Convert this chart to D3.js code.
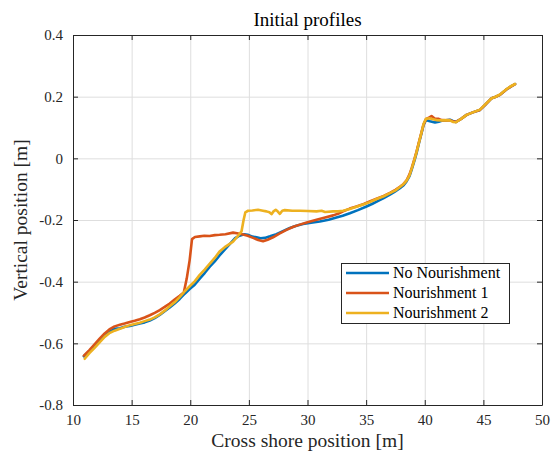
<!DOCTYPE html>
<html>
<head>
<meta charset="utf-8">
<script src="https://cdn.jsdelivr.net/npm/d3@7"></script>
<style>
  html, body { margin: 0; padding: 0; background: #ffffff; }
  svg { display: block; font-family: "Liberation Serif", "DejaVu Serif", serif; }
</style>
</head>
<body>
<div id="chart"></div>
<script>
// ---------- DATA ----------
const seriesNames = ["No Nourishment", "Nourishment 1", "Nourishment 2"];
const seriesColors = ["#0072BD", "#D95319", "#EDB120"];

const xTicks = [10, 15, 20, 25, 30, 35, 40, 45, 50];
const yTicks = [-0.8, -0.6, -0.4, -0.2, 0, 0.2, 0.4];
const yTickLabels = ["-0.8", "-0.6", "-0.4", "-0.2", "0", "0.2", "0.4"];

// [cross-shore position (m), vertical position (m)]
const noNourishment = [
  [10.93,-0.642],[11.4,-0.625],[11.84,-0.607],[12.27,-0.590],[12.7,-0.575],[13.1,-0.563],
  [13.55,-0.553],[14.0,-0.551],[14.4,-0.546],[14.85,-0.544],[15.26,-0.540],[15.7,-0.536],
  [16.11,-0.532],[16.55,-0.526],[16.97,-0.518],[17.4,-0.508],[17.82,-0.496],[18.25,-0.484],
  [18.67,-0.471],[19.1,-0.456],[19.53,-0.439],[19.95,-0.424],[20.38,-0.410],[20.81,-0.390],
  [21.23,-0.372],[21.65,-0.352],[22.09,-0.334],[22.5,-0.315],[22.94,-0.296],[23.37,-0.278],
  [23.79,-0.260],[24.2,-0.251],[24.6,-0.246],[24.9,-0.248],[25.3,-0.254],[25.65,-0.256],
  [26.0,-0.259],[26.36,-0.258],[26.8,-0.253],[27.35,-0.246],[27.9,-0.236],[28.49,-0.226],
  [29.05,-0.219],[29.62,-0.213],[30.3,-0.209],[31.05,-0.205],[31.8,-0.199],[32.47,-0.192],
  [33.0,-0.186],[33.61,-0.178],[34.3,-0.168],[35.03,-0.156],[35.5,-0.148],[36.03,-0.138],
  [36.5,-0.129],[37.03,-0.118],[37.45,-0.108],[37.88,-0.097],[38.2,-0.087],[38.45,-0.075],
  [38.7,-0.058],[38.88,-0.037],[39.1,-0.010],[39.3,0.017],[39.5,0.048],[39.73,0.082],
  [39.9,0.108],[40.1,0.124],[40.44,0.120],[40.87,0.116],[41.2,0.119],[41.44,0.122],
  [41.8,0.123],[42.15,0.125],[42.4,0.121],[42.66,0.118],[43.1,0.128],[43.57,0.141],
  [44.1,0.149],[44.71,0.157],[45.14,0.173],[45.71,0.195],[46.0,0.199],[46.42,0.206],
  [46.99,0.224],[47.3,0.232],[47.7,0.241]
];

const nourishment1 = [
  [10.93,-0.640],[11.4,-0.622],[11.84,-0.603],[12.27,-0.585],[12.7,-0.568],[13.1,-0.555],
  [13.55,-0.545],[14.0,-0.540],[14.4,-0.536],[14.85,-0.531],[15.26,-0.527],[15.7,-0.522],
  [16.11,-0.516],[16.55,-0.509],[16.97,-0.501],[17.4,-0.492],[17.82,-0.482],[18.25,-0.471],
  [18.67,-0.458],[19.1,-0.446],[19.45,-0.435],[19.7,-0.390],[19.95,-0.330],[20.15,-0.262],
  [20.4,-0.255],[20.81,-0.253],[21.2,-0.251],[21.65,-0.252],[22.1,-0.249],[22.5,-0.248],
  [23.0,-0.246],[23.65,-0.241],[24.1,-0.244],[24.5,-0.247],[24.9,-0.251],[25.36,-0.258],
  [25.8,-0.265],[26.21,-0.269],[26.6,-0.264],[27.06,-0.256],[27.6,-0.244],[28.21,-0.232],
  [28.8,-0.222],[29.34,-0.215],[30.0,-0.207],[30.77,-0.199],[31.5,-0.192],[32.19,-0.185],
  [32.6,-0.180],[33.04,-0.172],[33.6,-0.163],[34.18,-0.156],[34.8,-0.148],[35.3,-0.140],
  [35.89,-0.131],[36.5,-0.122],[37.03,-0.112],[37.5,-0.102],[37.88,-0.092],[38.2,-0.083],
  [38.45,-0.071],[38.7,-0.052],[38.9,-0.030],[39.1,-0.005],[39.3,0.022],[39.5,0.052],
  [39.73,0.085],[39.9,0.110],[40.1,0.127],[40.35,0.132],[40.58,0.137],[40.87,0.128],
  [41.2,0.128],[41.44,0.124],[41.8,0.123],[42.15,0.124],[42.4,0.120],[42.66,0.118],
  [43.1,0.128],[43.57,0.141],[44.1,0.149],[44.71,0.157],[45.14,0.173],[45.71,0.195],
  [46.0,0.199],[46.42,0.206],[46.99,0.224],[47.3,0.232],[47.7,0.241]
];

const nourishment2 = [
  [11.0,-0.650],[11.4,-0.632],[11.84,-0.615],[12.27,-0.597],[12.7,-0.579],[13.1,-0.567],
  [13.55,-0.559],[14.0,-0.553],[14.4,-0.547],[14.85,-0.541],[15.26,-0.537],[15.7,-0.533],
  [16.11,-0.528],[16.55,-0.523],[16.97,-0.516],[17.4,-0.506],[17.82,-0.494],[18.25,-0.480],
  [18.67,-0.467],[19.1,-0.450],[19.53,-0.431],[19.95,-0.415],[20.38,-0.399],[20.81,-0.378],
  [21.23,-0.361],[21.65,-0.342],[22.09,-0.323],[22.5,-0.302],[22.94,-0.288],[23.3,-0.279],
  [23.65,-0.270],[24.0,-0.255],[24.37,-0.237],[24.55,-0.200],[24.7,-0.175],[24.93,-0.170],
  [25.3,-0.169],[25.78,-0.167],[26.2,-0.170],[26.5,-0.172],[26.75,-0.175],[26.93,-0.181],
  [27.1,-0.172],[27.29,-0.167],[27.45,-0.172],[27.64,-0.180],[27.85,-0.170],[28.06,-0.168],
  [28.7,-0.170],[29.34,-0.170],[30.0,-0.171],[30.77,-0.172],[31.2,-0.170],[31.5,-0.174],
  [32.19,-0.172],[32.6,-0.172],[33.04,-0.170],[33.6,-0.164],[34.18,-0.157],[34.8,-0.149],
  [35.3,-0.142],[35.89,-0.132],[36.5,-0.123],[37.03,-0.113],[37.5,-0.104],[37.88,-0.093],
  [38.2,-0.083],[38.45,-0.072],[38.7,-0.055],[38.9,-0.032],[39.1,-0.007],[39.3,0.020],
  [39.5,0.050],[39.73,0.085],[39.9,0.112],[40.1,0.128],[40.4,0.130],[40.7,0.127],
  [41.0,0.124],[41.44,0.123],[41.8,0.124],[42.15,0.123],[42.4,0.118],[42.66,0.117],
  [43.1,0.128],[43.57,0.141],[44.1,0.149],[44.71,0.158],[45.14,0.174],[45.71,0.195],
  [46.0,0.199],[46.42,0.207],[46.99,0.225],[47.3,0.233],[47.7,0.241]
];

const seriesData = [noNourishment, nourishment1, nourishment2];

// ---------- LAYOUT ----------
const W = 553, H = 451;
const mLeft = 73, mRight = 542, mTop = 35, mBottom = 405;

const svg = d3.select("#chart").append("svg")
  .attr("width", W).attr("height", H);

const x = d3.scaleLinear().domain([10, 50]).range([mLeft, mRight]);
const y = d3.scaleLinear().domain([-0.8, 0.4]).range([mBottom, mTop]);

const axisColor = "#262626";
const gridColor = "#dedede";

// grid
svg.append("g").attr("transform", `translate(0,${mBottom})`)
  .call(d3.axisBottom(x).tickValues(xTicks).tickSize(-(mBottom - mTop)).tickFormat(""))
  .call(g => g.select(".domain").remove())
  .call(g => g.selectAll("line").attr("stroke", gridColor));
svg.append("g").attr("transform", `translate(${mLeft},0)`)
  .call(d3.axisLeft(y).tickValues(yTicks).tickSize(-(mRight - mLeft)).tickFormat(""))
  .call(g => g.select(".domain").remove())
  .call(g => g.selectAll("line").attr("stroke", gridColor));

// lines
const line = d3.line().x(d => x(d[0])).y(d => y(d[1]));
seriesData.forEach((s, i) => {
  svg.append("path")
    .datum(s)
    .attr("fill", "none")
    .attr("stroke", seriesColors[i])
    .attr("stroke-width", 2.6)
    .attr("stroke-linejoin", "round")
    .attr("stroke-linecap", "round")
    .attr("d", line);
});

// axes (ticks inside, box on)
const fontTick = "15px";
svg.append("g").attr("class", "ax").attr("transform", `translate(0,${mBottom})`)
  .call(d3.axisBottom(x).tickValues(xTicks).tickSizeInner(-5).tickSizeOuter(0).tickPadding(9).tickFormat(d3.format("d")));
svg.append("g").attr("class", "ax").attr("transform", `translate(${mLeft},0)`)
  .call(d3.axisLeft(y).tickValues(yTicks).tickSizeInner(-5).tickSizeOuter(0).tickPadding(10)
    .tickFormat((d, i) => yTickLabels[i]));
svg.append("g").attr("class", "ax").attr("transform", `translate(0,${mTop})`)
  .call(d3.axisTop(x).tickValues(xTicks).tickSizeInner(-5).tickSizeOuter(0).tickFormat(""));
svg.append("g").attr("class", "ax").attr("transform", `translate(${mRight},0)`)
  .call(d3.axisRight(y).tickValues(yTicks).tickSizeInner(-5).tickSizeOuter(0).tickFormat(""));

svg.selectAll(".ax").attr("font-family", "'Liberation Serif', 'DejaVu Serif', serif");
svg.selectAll(".ax .domain, .ax .tick line").attr("stroke", axisColor);
svg.selectAll(".ax .tick text")
  .attr("fill", axisColor)
  .style("font-family", "'Liberation Serif', 'DejaVu Serif', serif")
  .style("font-size", fontTick);

// title & labels
svg.append("text")
  .attr("x", (mLeft + mRight) / 2).attr("y", 26)
  .attr("text-anchor", "middle")
  .attr("fill", "#000")
  .style("font-size", "19px")
  .text("Initial profiles");

svg.append("text")
  .attr("x", (mLeft + mRight) / 2).attr("y", 447)
  .attr("text-anchor", "middle")
  .attr("fill", axisColor)
  .style("font-size", "19.5px")
  .text("Cross shore position [m]");

svg.append("text")
  .attr("transform", `translate(27,${(mTop + mBottom) / 2}) rotate(-90)`)
  .attr("text-anchor", "middle")
  .attr("fill", axisColor)
  .style("font-size", "19.5px")
  .text("Vertical position [m]");

// legend
const lg = svg.append("g");
lg.append("rect")
  .attr("x", 341.5).attr("y", 263.5).attr("width", 168).attr("height", 60)
  .attr("fill", "#fff").attr("stroke", axisColor).attr("stroke-width", 1);
const legY = [273, 293, 313];
seriesNames.forEach((name, i) => {
  lg.append("line")
    .attr("x1", 346).attr("x2", 389)
    .attr("y1", legY[i]).attr("y2", legY[i])
    .attr("stroke", seriesColors[i]).attr("stroke-width", 2.6);
  lg.append("text")
    .attr("x", 393).attr("y", legY[i] + 5)
    .attr("fill", "#000")
    .style("font-size", "16px")
    .text(name);
});
</script>
</body>
</html>
